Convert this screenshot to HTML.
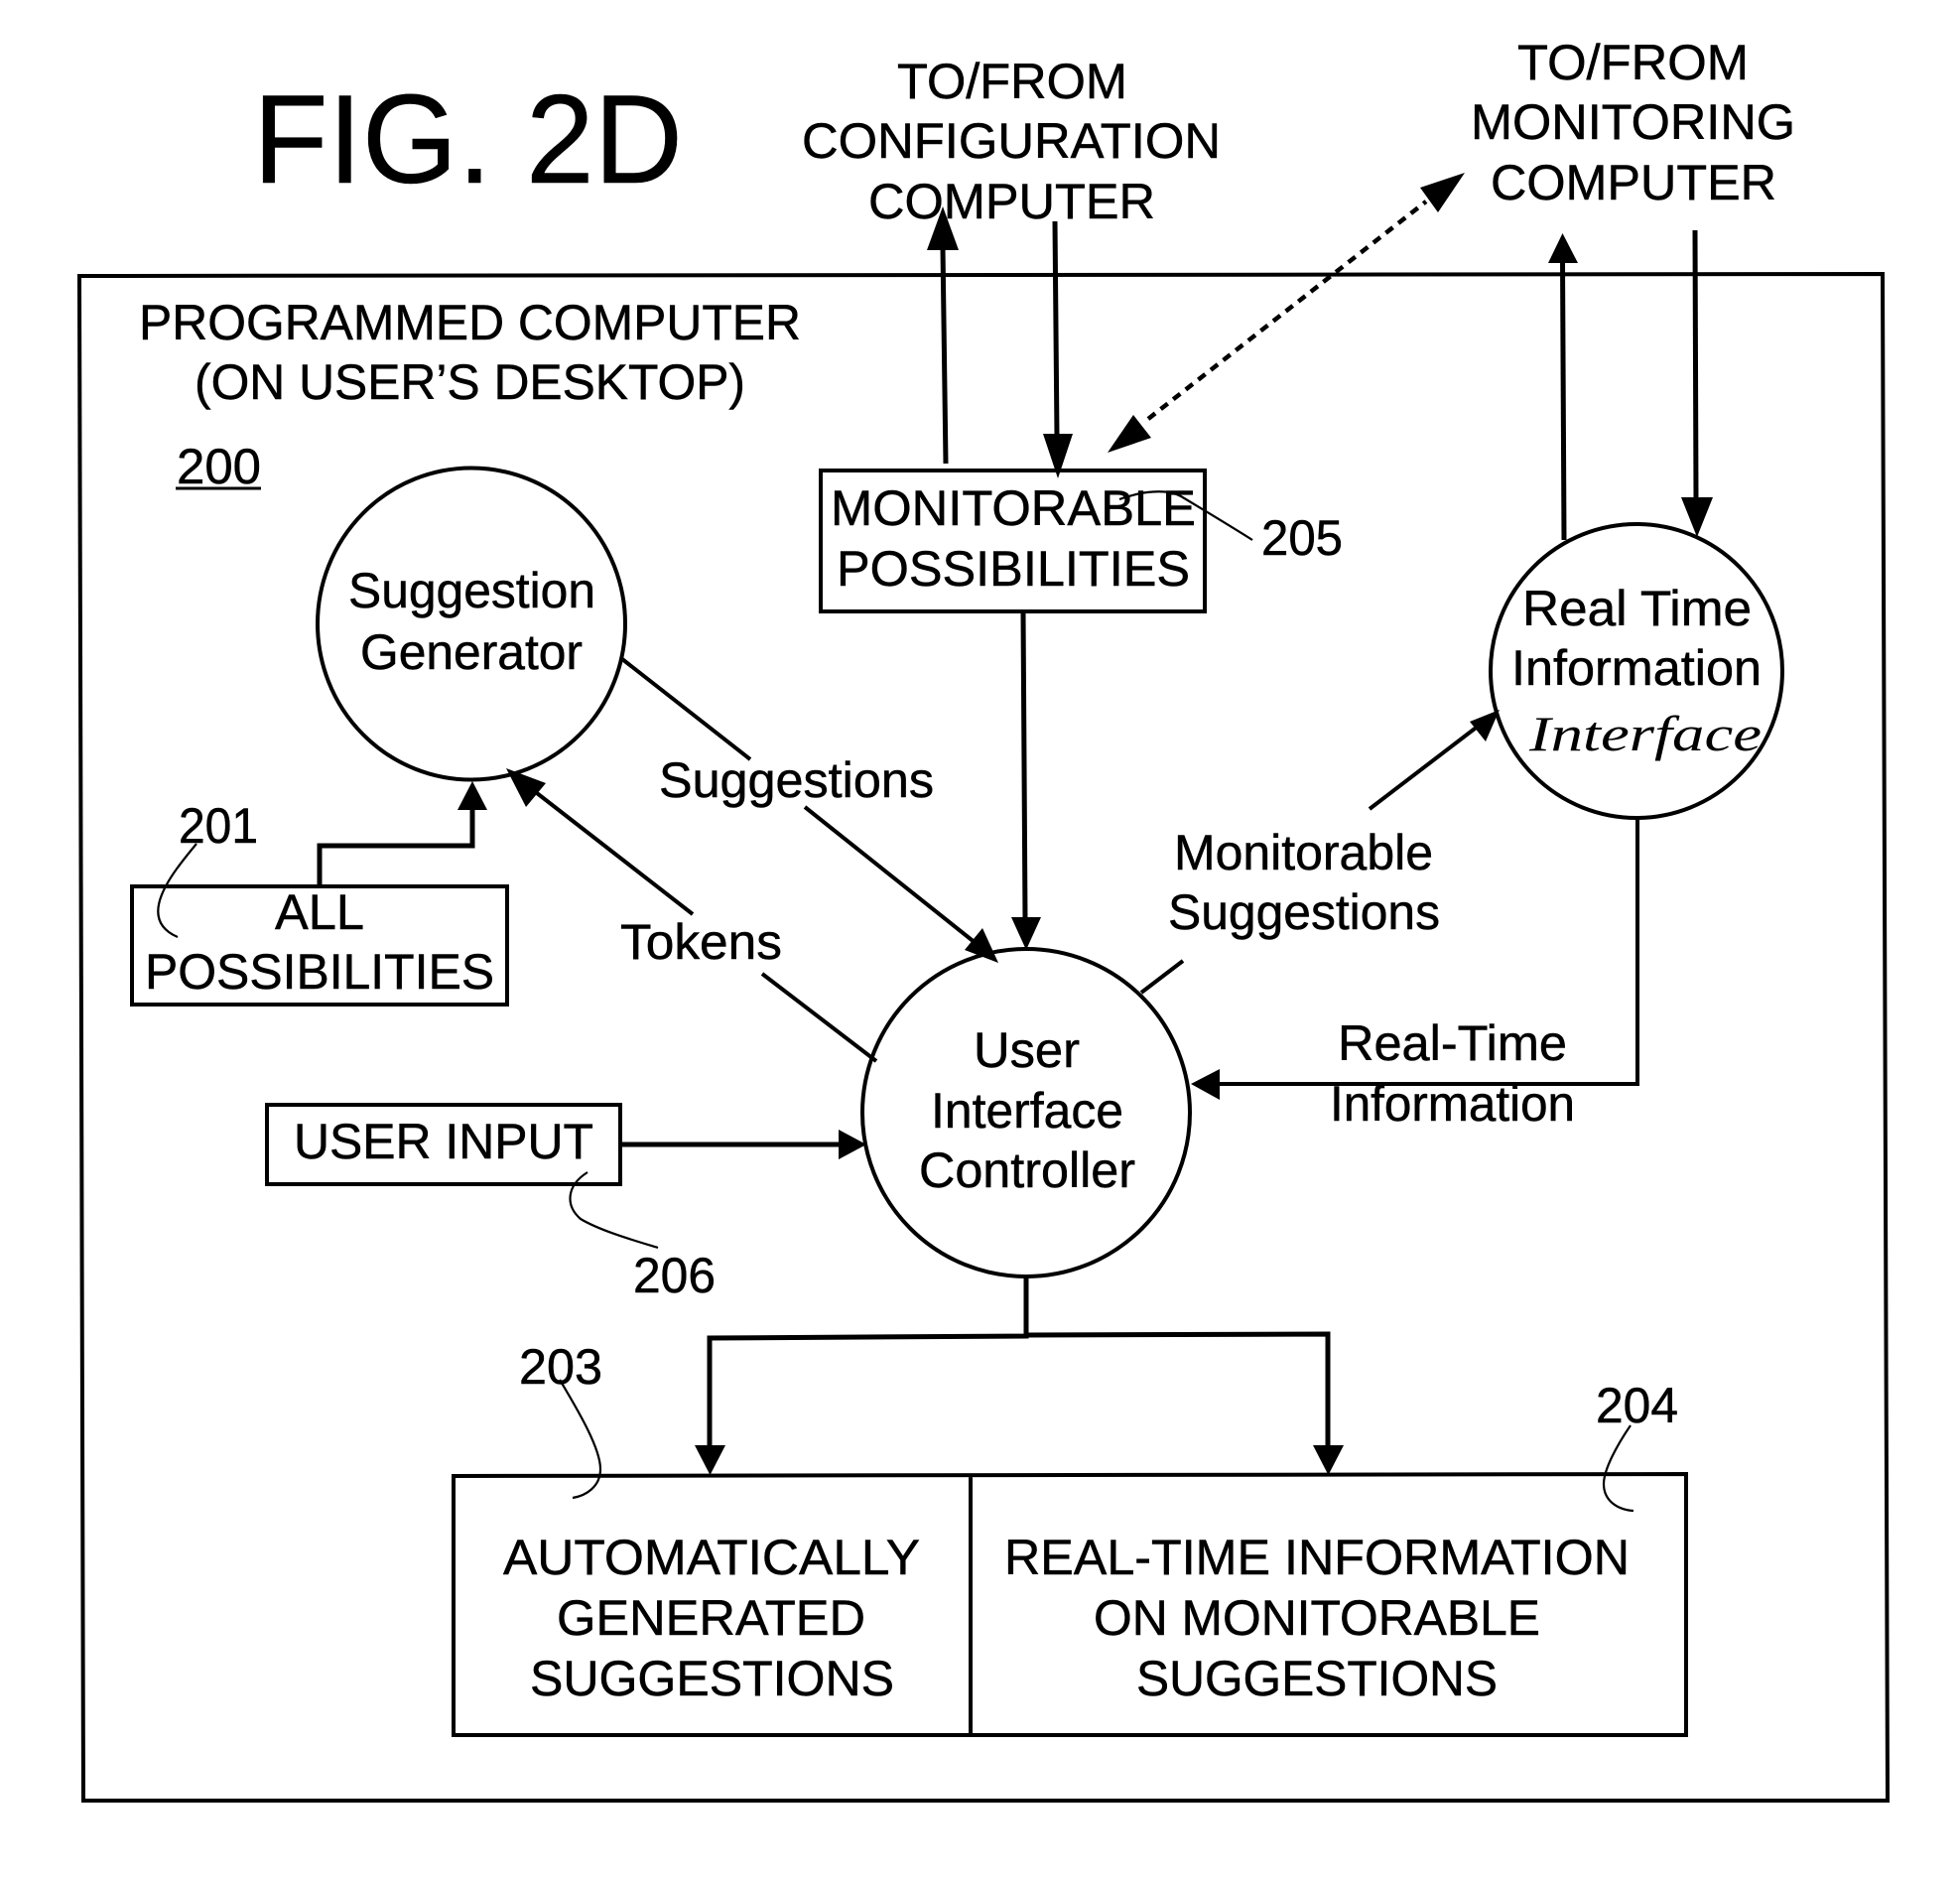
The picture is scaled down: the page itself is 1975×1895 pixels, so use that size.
<!DOCTYPE html>
<html><head><meta charset="utf-8"><style>
html,body{margin:0;padding:0;background:#fff}
svg{display:block}
text{font-family:"Liberation Sans",sans-serif;font-size:50px;fill:#000;stroke:#000;stroke-width:.5}
.l{fill:none;stroke:#000;stroke-width:4;stroke-linejoin:miter}
.c{fill:none;stroke:#000;stroke-width:5;stroke-linejoin:miter}
.t{fill:none;stroke:#000;stroke-width:2.2}
.a{fill:#000;stroke:none}
</style></head><body>
<svg width="1975" height="1895" viewBox="0 0 1975 1895" xmlns="http://www.w3.org/2000/svg">
<rect width="1975" height="1895" fill="#fff"/>
<text x="255" y="184" style="font-size:127px" textLength="433" lengthAdjust="spacingAndGlyphs">FIG. 2D</text>
<path class="l" d="M80 278L1897 276L1902 1814L84 1814Z"/>
<text x="904" y="99" textLength="232" lengthAdjust="spacingAndGlyphs">TO/FROM</text>
<text x="808" y="159" textLength="422" lengthAdjust="spacingAndGlyphs">CONFIGURATION</text>
<text x="875" y="220" textLength="289" lengthAdjust="spacingAndGlyphs">COMPUTER</text>
<text x="1529" y="80" textLength="233" lengthAdjust="spacingAndGlyphs">TO/FROM</text>
<text x="1482" y="140" textLength="327" lengthAdjust="spacingAndGlyphs">MONITORING</text>
<text x="1502" y="201" textLength="288" lengthAdjust="spacingAndGlyphs">COMPUTER</text>
<text x="140" y="342" textLength="667" lengthAdjust="spacingAndGlyphs">PROGRAMMED COMPUTER</text>
<text x="196" y="402" textLength="555" lengthAdjust="spacingAndGlyphs">(ON USER’S DESKTOP)</text>
<text x="178" y="487" textLength="85" lengthAdjust="spacingAndGlyphs">200</text>
<path d="M177 492H263" class="t" style="stroke-width:3"/>
<ellipse class="l" cx="475" cy="628.5" rx="155" ry="157"/>
<text x="351" y="612" textLength="249" lengthAdjust="spacingAndGlyphs">Suggestion</text>
<text x="363" y="674" textLength="224" lengthAdjust="spacingAndGlyphs">Generator</text>
<path class="l" d="M627 664L756 765M811 813L998 962"/>
<path class="a" d="M1006 970L972 957L990 935Z"/>
<text x="664" y="803" textLength="277" lengthAdjust="spacingAndGlyphs">Suggestions</text>
<path class="a" d="M510 774L550 789L530 813Z"/>
<path class="l" d="M532 792L698 921M768 981L883 1069"/>
<text x="625" y="966" textLength="163" lengthAdjust="spacingAndGlyphs">Tokens</text>
<text x="180" y="849" textLength="80" lengthAdjust="spacingAndGlyphs">201</text>
<path class="t" d="M198 850C175 878 135 925 179 944"/>
<rect class="l" x="133" y="893" width="378" height="119"/>
<text x="277" y="936" textLength="90" lengthAdjust="spacingAndGlyphs">ALL</text>
<text x="146" y="996" textLength="352" lengthAdjust="spacingAndGlyphs">POSSIBILITIES</text>
<path class="c" d="M322 893V852H476V815"/>
<path class="a" d="M476 787L491 816H461Z"/>
<rect class="l" x="827" y="474" width="387" height="142"/>
<path class="c" d="M953 467L950 250"/>
<path class="a" d="M950 208L966 252H934Z"/>
<path class="c" d="M1063 223L1065 440"/>
<path class="a" d="M1066 482L1051 437H1081Z"/>
<path d="M1157 422L1437 203" fill="none" stroke="#000" stroke-width="4.5" stroke-dasharray="9 7"/>
<path class="a" d="M1116 456L1142 418L1160 441Z"/>
<path class="a" d="M1476 174L1431 189L1449 214Z"/>
<text x="837" y="529" textLength="368" lengthAdjust="spacingAndGlyphs">MONITORABLE</text>
<text x="843" y="590" textLength="356" lengthAdjust="spacingAndGlyphs">POSSIBILITIES</text>
<path class="t" d="M1128 503C1150 495 1175 492 1190 500C1215 515 1240 530 1262 544"/>
<text x="1271" y="559" textLength="82" lengthAdjust="spacingAndGlyphs">205</text>
<path class="c" d="M1031 616L1033 926"/>
<path class="a" d="M1034 957L1019 924H1049Z"/>
<path class="c" d="M1574.5 262L1576 544"/>
<path class="a" d="M1574.5 235L1590 265H1560Z"/>
<path class="c" d="M1708 232L1709 505"/>
<path class="a" d="M1710 541L1694 501H1726Z"/>
<ellipse class="l" cx="1649" cy="676" rx="147" ry="148"/>
<text x="1534" y="630" textLength="231" lengthAdjust="spacingAndGlyphs">Real Time</text>
<text x="1523" y="690" textLength="252" lengthAdjust="spacingAndGlyphs">Information</text>
<text x="1541" y="756" textLength="234" lengthAdjust="spacingAndGlyphs" style="font-family:'Liberation Serif',serif;font-style:italic;stroke-width:0;font-size:50px">Interface</text>
<path class="l" d="M1380 815L1490 731"/>
<path class="a" d="M1511 715L1481 727L1497 747Z"/>
<text x="1183" y="876" textLength="261" lengthAdjust="spacingAndGlyphs">Monitorable</text>
<text x="1177" y="936" textLength="274" lengthAdjust="spacingAndGlyphs">Suggestions</text>
<path class="l" d="M1650 824V1092H1225"/>
<path class="a" d="M1200 1092L1229 1077V1108Z"/>
<text x="1348" y="1068" textLength="231" lengthAdjust="spacingAndGlyphs">Real-Time</text>
<text x="1340" y="1129" textLength="247" lengthAdjust="spacingAndGlyphs">Information</text>
<path class="l" d="M1192 968L1150 1000"/>
<ellipse class="l" cx="1034" cy="1121" rx="165" ry="165"/>
<text x="981" y="1075" textLength="107" lengthAdjust="spacingAndGlyphs">User</text>
<text x="938" y="1136" textLength="194" lengthAdjust="spacingAndGlyphs">Interface</text>
<text x="926" y="1196" textLength="218" lengthAdjust="spacingAndGlyphs">Controller</text>
<path class="c" d="M1034 1286V1346L715 1348V1458M1034 1345L1338 1344V1458"/>
<path class="a" d="M715.5 1486L700 1456H731Z"/>
<path class="a" d="M1338.5 1486L1323 1456H1354Z"/>
<path class="l" d="M457 1487L1699 1485V1748H457ZM978 1487V1748"/>
<text x="507" y="1586" textLength="420" lengthAdjust="spacingAndGlyphs">AUTOMATICALLY</text>
<text x="561" y="1647" textLength="311" lengthAdjust="spacingAndGlyphs">GENERATED</text>
<text x="534" y="1708" textLength="367" lengthAdjust="spacingAndGlyphs">SUGGESTIONS</text>
<text x="1012" y="1586" textLength="630" lengthAdjust="spacingAndGlyphs">REAL-TIME INFORMATION</text>
<text x="1102" y="1647" textLength="450" lengthAdjust="spacingAndGlyphs">ON MONITORABLE</text>
<text x="1145" y="1708" textLength="364" lengthAdjust="spacingAndGlyphs">SUGGESTIONS</text>
<rect class="l" x="269" y="1113" width="356" height="80"/>
<text x="296" y="1167" textLength="302" lengthAdjust="spacingAndGlyphs">USER INPUT</text>
<path class="c" d="M626 1153H848"/>
<path class="a" d="M873 1153L845 1138V1168Z"/>
<path class="t" d="M592 1181C570 1195 570 1215 585 1228C605 1240 640 1250 663 1257"/>
<text x="638" y="1302" textLength="83" lengthAdjust="spacingAndGlyphs">206</text>
<text x="523" y="1394" textLength="84" lengthAdjust="spacingAndGlyphs">203</text>
<path class="t" d="M564 1390C585 1425 605 1460 605 1480C605 1498 590 1507 577 1509"/>
<text x="1608" y="1433" textLength="83" lengthAdjust="spacingAndGlyphs">204</text>
<path class="t" d="M1643 1436C1630 1455 1616 1480 1616 1495C1616 1512 1630 1521 1646 1522"/>
</svg>
</body></html>
